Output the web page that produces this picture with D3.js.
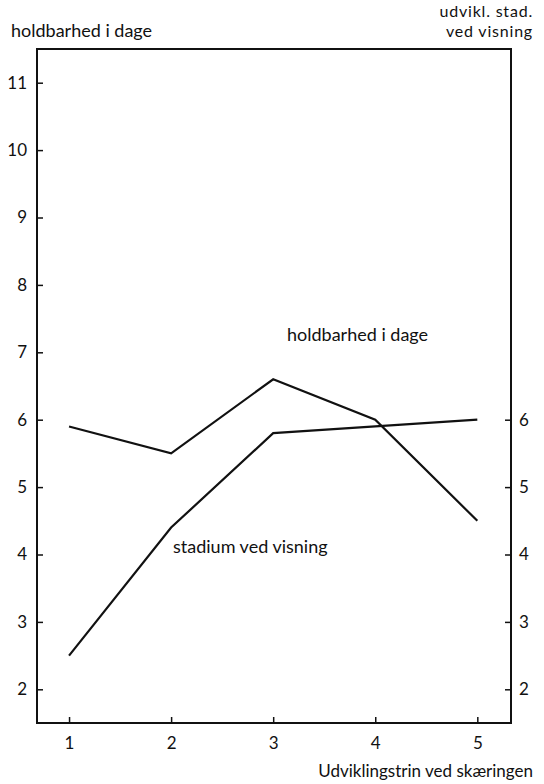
<!DOCTYPE html>
<html><head><meta charset="utf-8">
<script src="https://cdn.jsdelivr.net/npm/d3@7"></script>
<style>body{margin:0;background:#fff}svg{display:block}text{font-family:Lato,"Open Sans",sans-serif;fill:#111}</style>
</head><body><div id="c"></div>
<script>
const stages = [1, 2, 3, 4, 5];
const holdbarhed = [5.9, 5.5, 6.6, 6.0, 4.5];
const stadium = [2.5, 4.4, 5.8, 5.9, 6.0];
const leftTicks = [2, 3, 4, 5, 6, 7, 8, 9, 10, 11];
const rightTicks = [2, 3, 4, 5, 6];

const W = 544, H = 784;
const L = 37, R = 511, T = 49, B = 723;
const svg = d3.select("#c").append("svg").attr("width", W).attr("height", H);
const x = d3.scaleLinear().domain([0.686, 5.33]).range([L, R]);
const y = d3.scaleLinear().domain([1.5, 11.5]).range([B, T]);

// frame
svg.append("rect").attr("x", L).attr("y", T).attr("width", R - L).attr("height", B - T)
  .attr("fill", "none").attr("stroke", "#111").attr("stroke-width", 2);

const fs = 17;
// left axis
const la = svg.append("g").attr("transform", `translate(${L},0)`)
  .call(d3.axisRight(y).tickValues(leftTicks).tickSize(6).tickFormat(d3.format("d")));
la.select(".domain").remove();
la.selectAll("line").attr("stroke", "#111").attr("stroke-width", 1.5);
la.selectAll("text").attr("x", -10).attr("text-anchor", "end").attr("font-size", fs).attr("fill", "#111");

// right axis
const ra = svg.append("g").attr("transform", `translate(${R},0)`)
  .call(d3.axisLeft(y).tickValues(rightTicks).tickSize(6).tickFormat(d3.format("d")));
ra.select(".domain").remove();
ra.selectAll("line").attr("stroke", "#111").attr("stroke-width", 1.5);
ra.selectAll("text").attr("x", 8).attr("text-anchor", "start").attr("font-size", fs).attr("fill", "#111");

// bottom axis
const ba = svg.append("g").attr("transform", `translate(0,${B})`)
  .call(d3.axisTop(x).tickValues(stages).tickSize(6).tickFormat(d3.format("d")));
ba.select(".domain").remove();
ba.selectAll("line").attr("stroke", "#111").attr("stroke-width", 1.5);
ba.selectAll("text").attr("y", 26).attr("dy", 0).attr("font-size", fs).attr("fill", "#111");

// lines
const line = d3.line().x((d, i) => x(stages[i])).y(d => y(d));
[holdbarhed, stadium].forEach(s => {
  svg.append("path").attr("d", line(s)).attr("fill", "none")
    .attr("stroke", "#111").attr("stroke-width", 2.2).attr("stroke-linejoin", "miter");
});

// texts
svg.append("text").attr("x", 11).attr("y", 37).attr("font-size", 18).text("holdbarhed i dage");
svg.append("text").attr("x", 533).attr("y", 17).attr("font-size", 16).attr("letter-spacing", 0.8).attr("text-anchor", "end").text("udvikl. stad.");
svg.append("text").attr("x", 533).attr("y", 37).attr("font-size", 16).attr("letter-spacing", 0.8).attr("text-anchor", "end").text("ved visning");
svg.append("text").attr("x", 533).attr("y", 777).attr("font-size", 17).attr("text-anchor", "end").text("Udviklingstrin ved skæringen");
svg.append("text").attr("x", 287).attr("y", 341).attr("font-size", 18).text("holdbarhed i dage");
svg.append("text").attr("x", 173).attr("y", 553).attr("font-size", 18).text("stadium ved visning");
</script></body></html>
